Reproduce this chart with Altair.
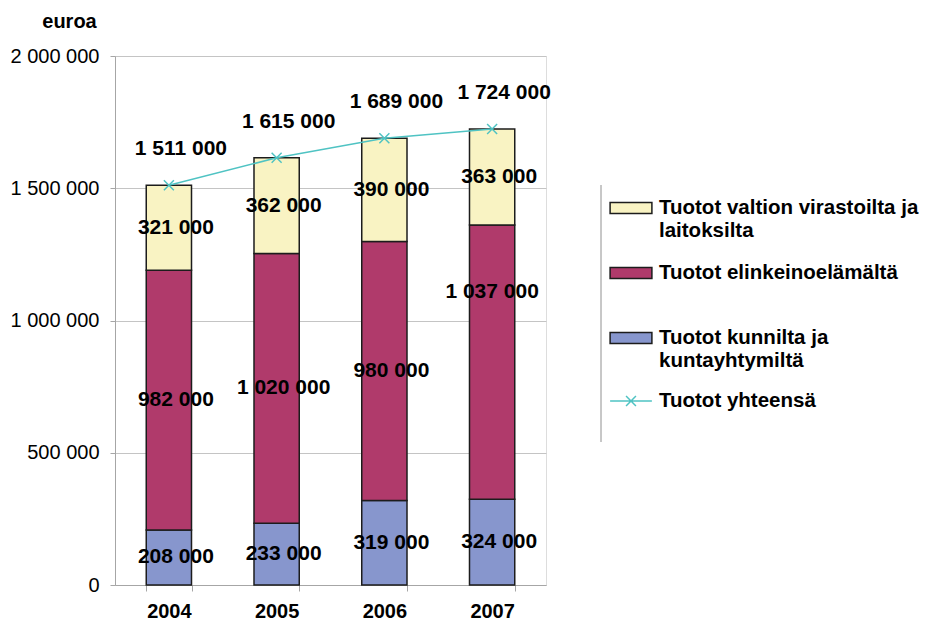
import altair as alt
import pandas as pd

years = ["2004", "2005", "2006", "2007"]
kunnat = [208000, 233000, 319000, 324000]
elinkeino = [982000, 1020000, 980000, 1037000]
valtio = [321000, 362000, 390000, 363000]
yhteensa = [1511000, 1615000, 1689000, 1724000]

s_valtio = "Tuotot valtion virastoilta ja laitoksilta"
s_elink = "Tuotot elinkeinoelämältä"
s_kunnat = "Tuotot kunnilta ja kuntayhtymiltä"
s_total = "Tuotot yhteensä"

legend_order = [s_valtio, s_elink, s_kunnat]
bar_colors = ["#F9F3C3", "#B03A6B", "#8796CD"]
line_color = "#4FC3C3"

FONT = "Liberation Sans"


def fmt(v):
    return f"{v:,}".replace(",", " ")


rows = []
stack = [(s_kunnat, kunnat), (s_elink, elinkeino), (s_valtio, valtio)]
for i, y in enumerate(years):
    base = 0
    for name, vals in stack:
        v = vals[i]
        rows.append({"year": y, "series": name, "value": v, "y0": base,
                     "y1": base + v, "mid": base + v / 2, "label": fmt(v)})
        base += v
bars_df = pd.DataFrame(rows)
tot_df = pd.DataFrame({"year": years, "total": yhteensa,
                       "name": [s_total] * len(years),
                       "label": [fmt(v) for v in yhteensa]})

x_enc = alt.X("year:N", title=None,
              scale=alt.Scale(paddingInner=0.58, paddingOuter=0.29),
              axis=alt.Axis(labelFont=FONT, labelFontSize=20, labelFontWeight="bold",
                            labelColor="#000000", labelPadding=10, labelAngle=0,
                            tickBand="extent", tickSize=6, tickColor="#a6a6a6",
                            domainColor="#a6a6a6", grid=False))

y_scale = alt.Scale(domain=[0, 2000000], nice=False)
y_axis = alt.Axis(values=[0, 500000, 1000000, 1500000, 2000000],
                  labelExpr="replace(format(datum.value, ','), regexp(',', 'g'), ' ')",
                  labelFont=FONT, labelFontSize=20, labelColor="#000000",
                  labelPadding=11, tickSize=5, tickColor="#a6a6a6",
                  domainColor="#a6a6a6", grid=True, gridColor="#c4c4c4",
                  title="euroa", titleAngle=0, titleAlign="center",
                  titleX=-46, titleY=-29, titleBaseline="alphabetic",
                  titleFont=FONT, titleFontSize=20, titleFontWeight="bold",
                  titleColor="#000000")

fill_legend = alt.Legend(
    title=None, orient="none", legendX=504, legendY=140, padding=0,
    symbolType="M-1.9,-0.5H1.9V0.5H-1.9Z", symbolSize=484,
    symbolStrokeColor="#1c1c1c", symbolStrokeWidth=1.5,
    labelFont=FONT, labelFontSize=20.5, labelFontWeight="bold", labelColor="#000000",
    labelLimit=400, labelOffset=16, rowPadding=20,
    labelExpr=("datum.label == '" + s_valtio + "' ? ['Tuotot valtion virastoilta ja', 'laitoksilta'] : "
               "datum.label == '" + s_kunnat + "' ? ['Tuotot kunnilta ja', 'kuntayhtymiltä'] : "
               "[datum.label, ' ']"))

stroke_legend = alt.Legend(
    title=None, orient="none", legendX=504, legendY=333, padding=0,
    symbolType="M-1.9,0H1.9M-0.45,-0.45L0.45,0.45M-0.45,0.45L0.45,-0.45",
    symbolSize=484, symbolStrokeWidth=1.5, symbolFillColor="transparent",
    labelFont=FONT, labelFontSize=20.5, labelFontWeight="bold", labelColor="#000000",
    labelLimit=400, labelOffset=16)

bars = alt.Chart(bars_df).mark_bar(stroke="#1c1c1c", strokeWidth=1.5).encode(
    x=x_enc,
    y=alt.Y("y0:Q", scale=y_scale, axis=y_axis),
    y2="y1:Q",
    fill=alt.Fill("series:N", scale=alt.Scale(domain=legend_order, range=bar_colors),
                  legend=fill_legend),
)

moved = "datum.label == '1 037 000'"

seg_text = alt.Chart(bars_df).transform_filter("!(" + moved + ")").mark_text(
    font=FONT, fontSize=21, fontWeight="bold", color="#000000", dx=7).encode(
    x=alt.X("year:N"), y=alt.Y("mid:Q"), text="label:N")

seg_text_moved = alt.Chart(bars_df).transform_filter(moved).mark_text(
    font=FONT, fontSize=21, fontWeight="bold", color="#000000", dx=0, dy=-70).encode(
    x=alt.X("year:N"), y=alt.Y("mid:Q"), text="label:N")

stroke_scale = alt.Scale(domain=[s_total], range=[line_color])

line = alt.Chart(tot_df).mark_line(strokeWidth=1.5).encode(
    x=alt.X("year:N"), y=alt.Y("total:Q"),
    stroke=alt.Stroke("name:N", scale=stroke_scale, legend=stroke_legend))

pts = alt.Chart(tot_df).mark_point(shape="M-1,-1L1,1M-1,1L1,-1", size=100,
                                   filled=False, strokeWidth=1.5, opacity=1).encode(
    x=alt.X("year:N"), y=alt.Y("total:Q"),
    stroke=alt.Stroke("name:N", scale=stroke_scale, legend=stroke_legend))

tot_text = alt.Chart(tot_df).mark_text(font=FONT, fontSize=21, fontWeight="bold",
                                       color="#000000", dx=12, dy=-36).encode(
    x=alt.X("year:N"), y=alt.Y("total:Q"), text="label:N")

frame = alt.Chart(tot_df).mark_rule(color="#c4c4c4", strokeWidth=1).encode(
    x=alt.value(486), y=alt.value(129), y2=alt.value(386))

chart = alt.layer(bars, line, pts, seg_text, seg_text_moved, tot_text, frame).properties(
    width=431, height=529,
    autosize=alt.AutoSizeParams(type="none"),
    padding={"left": 107, "top": 48, "right": 373, "bottom": 37},
).configure_view(stroke=None).configure(background="#ffffff")

chart.save("out.html", embed_options={"renderer": "svg", "actions": False})
